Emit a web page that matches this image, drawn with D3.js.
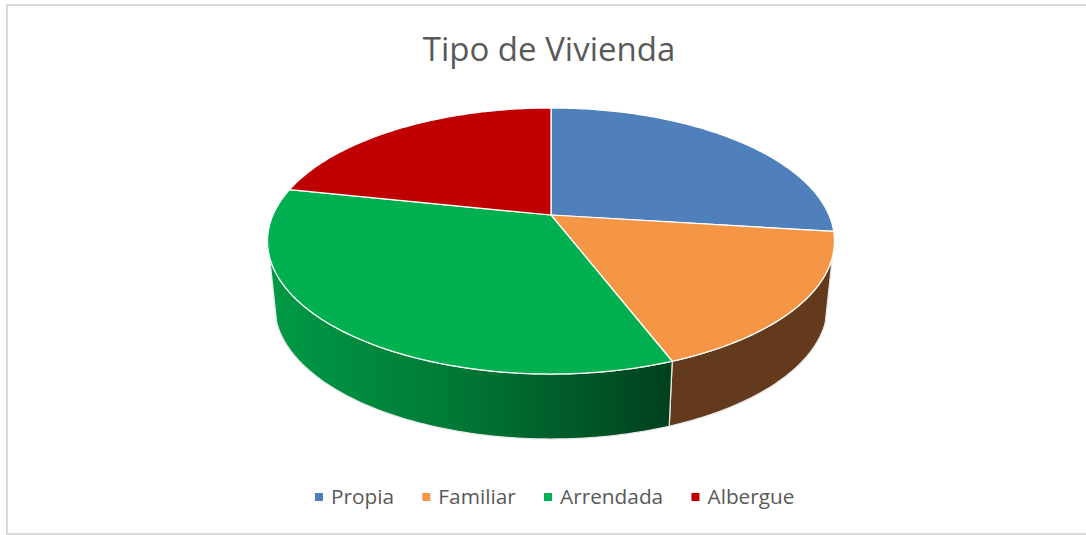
<!DOCTYPE html>
<html>
<head>
<meta charset="utf-8">
<title>Tipo de Vivienda</title>
<script src="https://cdn.jsdelivr.net/npm/d3@7"></script>
<style>
  html, body { margin: 0; padding: 0; background: #fff; overflow: hidden; }
  text { font-family: "Open Sans", sans-serif; fill: #595959; }
</style>
</head>
<body>
<div id="chart"></div>
<script>
const chartTitle = 'Tipo de Vivienda';
const categories = ['Propia', 'Familiar', 'Arrendada', 'Albergue'];
const shares = [27, 17.2, 34.1, 21.7];
const colors = ['#4f80bc', '#f49645', '#00b050', '#c00000'];

const width = 1086;
const height = 535;

// perspective of the pie top, fitted on the picture
const centerX = 551;
const centerY = 215;
const radiusX = 278;
const depthK = -0.1955;
const depthP = 85.9;
const wallHeight = 65;
const wallShrink = 0.975;
// part of the rim that faces the viewer
const frontFrom = 108 * Math.PI / 180;
const frontTo = 252 * Math.PI / 180;

function topPoint(a) {
  const u = Math.sin(a);
  const v = -Math.cos(a);
  const w = 1 + depthK * v;
  return [centerX + radiusX * u / w, (centerY + depthP * v) / w];
}

function bottomPoint(a) {
  const p = topPoint(a);
  return [centerX + (p[0] - centerX) * wallShrink, p[1] + wallHeight];
}

function angles(a0, a1) {
  const n = Math.max(2, Math.ceil(Math.abs(a1 - a0) * 60));
  return d3.range(n + 1).map(i => a0 + (a1 - a0) * i / n);
}

const line = d3.line();

const svg = d3.select('#chart').append('svg')
  .attr('width', width)
  .attr('height', height);

const defs = svg.append('defs');
const greenWall = defs.append('linearGradient')
  .attr('id', 'wall-green')
  .attr('gradientUnits', 'userSpaceOnUse')
  .attr('x1', 268).attr('x2', 672).attr('y1', 0).attr('y2', 0);
greenWall.append('stop').attr('offset', '0').attr('stop-color', '#009a46');
greenWall.append('stop').attr('offset', '0.45').attr('stop-color', '#007a36');
greenWall.append('stop').attr('offset', '1').attr('stop-color', '#00401d');

// chart frame, open on the right like the picture
svg.append('rect')
  .attr('x', 7).attr('y', 5)
  .attr('width', width).attr('height', 529)
  .attr('fill', '#fff')
  .attr('stroke', '#d9d9d9')
  .attr('stroke-width', 2);

svg.append('text')
  .attr('x', 549)
  .attr('y', 61)
  .attr('text-anchor', 'middle')
  .attr('font-size', 33)
  .text(chartTitle);

const arcs = d3.pie().sort(null).startAngle(0).endAngle(2 * Math.PI)(shares);

const wallFill = d => {
  if (d.index === 1) return '#633a1c';
  if (d.index === 2) return 'url(#wall-green)';
  return colors[d.index];
};

svg.append('g').selectAll('path')
  .data(arcs.filter(d => d.endAngle > frontFrom && d.startAngle < frontTo))
  .join('path')
  .attr('fill', wallFill)
  .attr('stroke', '#e8e8e8')
  .attr('stroke-width', 1.25)
  .attr('d', d => {
    const a0 = Math.max(d.startAngle, frontFrom);
    const a1 = Math.min(d.endAngle, frontTo);
    const upper = angles(a0, a1).map(topPoint);
    const lower = angles(a1, a0).map(bottomPoint);
    return line(upper.concat(lower)) + 'Z';
  });

svg.append('g').selectAll('path')
  .data(arcs)
  .join('path')
  .attr('fill', d => colors[d.index])
  .attr('stroke', '#fff')
  .attr('stroke-width', 1.25)
  .attr('stroke-linejoin', 'round')
  .attr('d', d => line([[centerX, centerY]].concat(angles(d.startAngle, d.endAngle).map(topPoint))) + 'Z');

// legend, laid out from the measured labels
const legend = svg.append('g');
const items = legend.selectAll('g')
  .data(categories)
  .join('g');
items.append('rect')
  .attr('y', 493)
  .attr('width', 8)
  .attr('height', 8)
  .attr('fill', (d, i) => colors[i]);
items.append('text')
  .attr('x', 16)
  .attr('y', 504)
  .attr('font-size', 20.8)
  .text(d => d);

let legendX = 315;
items.each(function() {
  d3.select(this).attr('transform', `translate(${legendX},0)`);
  legendX += 16 + d3.select(this).select('text').node().getComputedTextLength() + 28.3;
});
</script>
</body>
</html>
